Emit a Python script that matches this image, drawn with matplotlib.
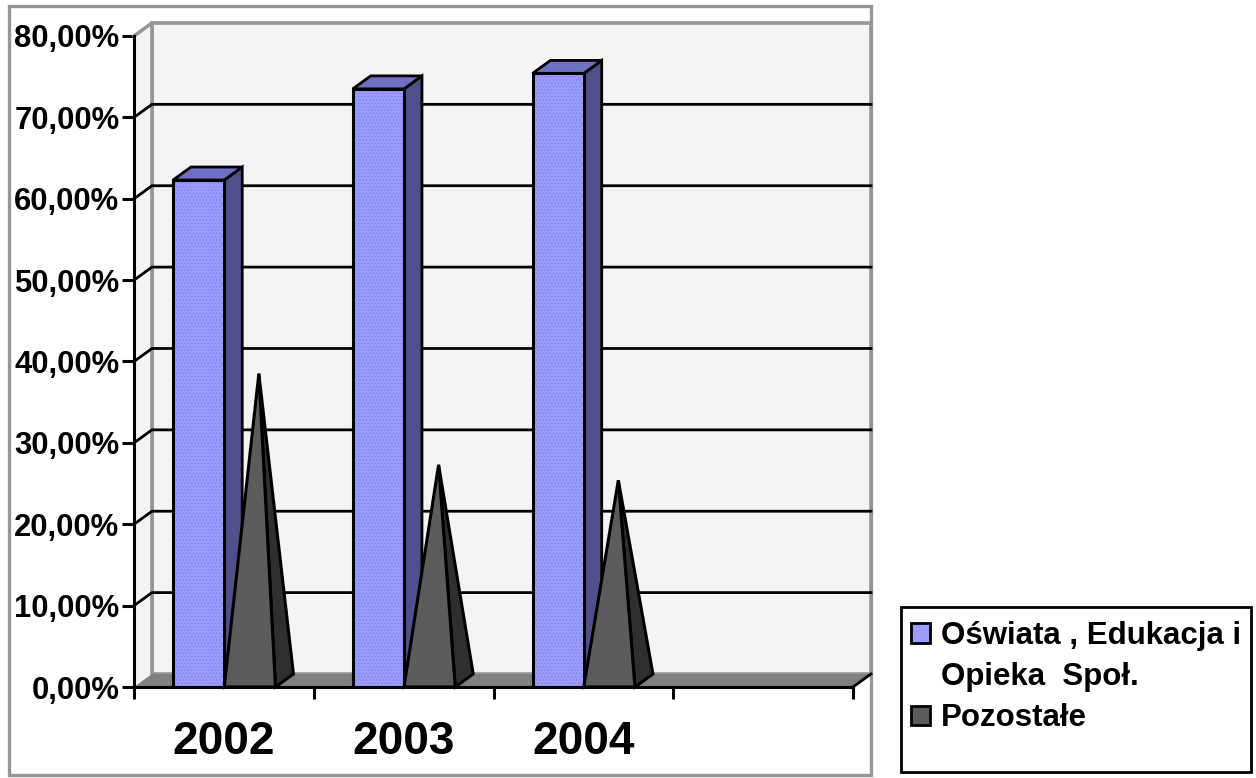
import matplotlib
matplotlib.use('Agg')
import matplotlib.pyplot as plt
from matplotlib.patches import Patch, Rectangle

plt.rcParams['font.family'] = ['Liberation Sans', 'DejaVu Sans']
plt.rcParams['font.weight'] = 'bold'
plt.rcParams['hatch.linewidth'] = 0.6

years = ['2002', '2003', '2004']
oswiata = [62.3, 73.5, 75.4]
pozostale = [37.7, 26.5, 24.6]
y_ticks = [0, 10, 20, 30, 40, 50, 60, 70, 80]
y_labels = ['0,00%', '10,00%', '20,00%', '30,00%', '40,00%', '50,00%', '60,00%', '70,00%', '80,00%']
legend_rows = ['Oświata , Edukacja i', 'Opieka  Społ.', 'Pozostałe']

W, H = 1256, 778
fig = plt.figure(figsize=(W / 100, H / 100), dpi=100)
# axes box is the front plane of the fake 3d chart
ax = fig.add_axes([134 / W, 1 - 687 / H, 719 / W, 651 / H])
ax.set_xlim(0, 4)
ax.set_ylim(0, 80)
ax.patch.set_visible(False)

# depth of the chart and width of one bar, in data units
dx = 0.1
dy = 1.6
bar_w = 0.285
bar_off = 0.217

GRAY = '#969696'
LW = 2.0

# outer frame and legend box
fig.add_artist(Rectangle((8.5 / W, 1 - 775 / H), 862 / W, 769 / H, transform=fig.transFigure,
                         fc='white', ec=GRAY, lw=2.4, zorder=-5))
fig.add_artist(Rectangle((901 / W, 1 - 772 / H), 350 / W, 165 / H, transform=fig.transFigure,
                         fc='white', ec='black', lw=LW, zorder=-5))

# walls and floor
ax.fill([dx, 4 + dx, 4 + dx, dx], [dy, dy, 80 + dy, 80 + dy], fc='#f4f4f4', ec=GRAY, lw=2.6, zorder=1, clip_on=False)
ax.fill([0, dx, dx, 0], [0, dy, 80 + dy, 80], fc='#f4f4f4', ec='none', zorder=1, clip_on=False)
ax.plot([0, dx, dx], [80, 80 + dy, dy], color=GRAY, lw=2.6, zorder=2, clip_on=False)
ax.fill([0, 4, 4 + dx, dx], [0, 0, dy, dy], fc='#808080', ec='none', zorder=2, clip_on=False)
ax.plot([4, 4 + dx], [0, dy], color='black', lw=LW, zorder=2, clip_on=False)

# gridlines run along the back wall and step down the side wall
for v in y_ticks[1:-1]:
    ax.plot([0, dx, 4 + dx], [v, v + dy, v + dy], color='black', lw=LW, zorder=2, clip_on=False)

for i in range(len(years)):
    left = i + bar_off
    right = left + bar_w
    top = oswiata[i]

    # blue bar: side and top first, front with a dotted fill
    ax.fill([right, right + dx, right + dx, right], [0, dy, top + dy, top],
            fc='#50508c', ec='black', lw=LW, zorder=3, clip_on=False)
    ax.fill([left, right, right + dx, left + dx], [top, top, top + dy, top + dy],
            fc='#7070c4', ec='black', lw=LW, zorder=3, clip_on=False)
    ax.bar(left, top, bar_w, align='edge', color='#9c9cff', hatch='.....', edgecolor='#8282e6', lw=0, zorder=4)
    ax.bar(left, top, bar_w, align='edge', fill=False, edgecolor='black', lw=2.2, zorder=4)

    # cone next to it
    c_left = right
    c_right = c_left + bar_w
    c_mid = (c_left + c_right) / 2 + dx / 2
    c_top = pozostale[i] + dy / 2
    ax.fill([c_right, c_right + dx, c_mid], [0, dy, c_top], fc='#2f2f2f', ec='black', lw=2.2, zorder=5, clip_on=False)
    ax.fill([c_left, c_right, c_mid], [0, 0, c_top], fc='#5c5c5c', ec='black', lw=2.2, zorder=6, clip_on=False)

# axes lines and labels
for name in ['top', 'right']:
    ax.spines[name].set_visible(False)
for name in ['left', 'bottom']:
    ax.spines[name].set_linewidth(2.2)
    ax.spines[name].set_zorder(7)

ax.set_yticks(y_ticks, y_labels, fontsize=22.3, fontweight='bold')
ax.tick_params(axis='y', length=8.5, width=2.2, pad=2)
ax.set_xticks([0, 1, 2, 3, 4], [''] * 5)
ax.tick_params(axis='x', which='major', length=8.5, width=2.2)
ax.set_xticks([0.5, 1.5, 2.5], years, minor=True, fontsize=33, fontweight='bold')
ax.tick_params(axis='x', which='minor', length=0, pad=24)

# middle row only carries the second line of the first label
handles = [Patch(fc='#9c9cff', ec='black', lw=LW), Patch(visible=False), Patch(fc='#5c5c5c', ec='black', lw=LW)]
fig.legend(handles, legend_rows, loc='upper left', bbox_to_anchor=(911 / W, 1 - 621 / H),
           frameon=False, fontsize=22.5, handlelength=0.6, handleheight=0.6,
           handletextpad=0.36, labelspacing=0.36, borderpad=0, borderaxespad=0)

fig.savefig('out.png', dpi=100)
